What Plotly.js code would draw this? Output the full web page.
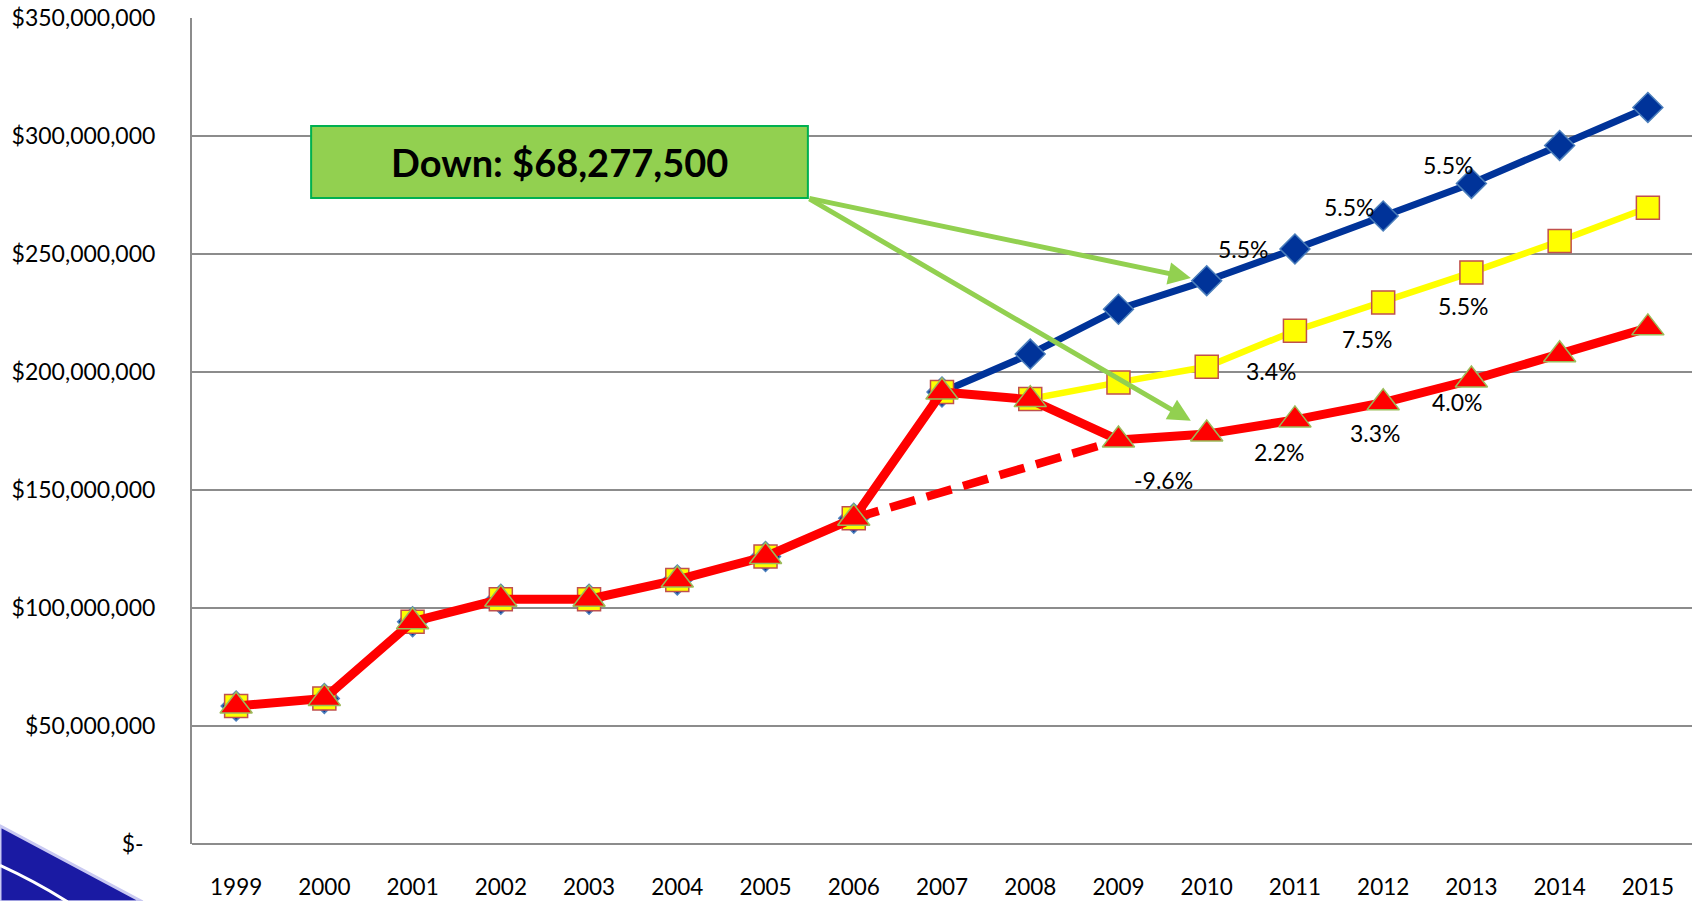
<!DOCTYPE html>
<html>
<head>
<meta charset="utf-8">
<script src="https://cdn.plot.ly/plotly-3.0.1.min.js"></script>
<style>
  html, body { margin: 0; padding: 0; background: #ffffff; }
  #chart { width: 1696px; height: 901px; }
</style>
</head>
<body>
<div id="chart"></div>
<script>
// ---- data (US$) ----
const years = [1999, 2000, 2001, 2002, 2003, 2004, 2005, 2006, 2007, 2008, 2009, 2010, 2011, 2012, 2013, 2014, 2015];
const projected = [58.5, 61.7, 94.2, 103.7, 103.7, 111.9, 121.8, 138.0, 191.5, 207.6, 226.6, 238.7, 252.1, 266.1, 279.9, 296.0, 312.1].map(v => v * 1e6);
const revised   = [58.5, 61.7, 94.2, 103.7, 103.7, 111.9, 121.8, 138.0, 191.5, 188.6, 195.6, 202.2, 217.5, 229.5, 242.2, 255.5, 269.6].map(v => v * 1e6);
const actual    = [58.5, 61.7, 94.2, 103.7, 103.7, 111.9, 121.8, 138.0, 191.5, 188.3, 171.2, 173.7, 179.7, 187.0, 196.6, 207.3, 218.7].map(v => v * 1e6);
const trendYears = [2006, 2009];
const trendValues = [138.0, 171.2].map(v => v * 1e6);

const yTickValues = [0, 50e6, 100e6, 150e6, 200e6, 250e6, 300e6, 350e6];
const yTickLabels = ['$-\u00a0\u00a0', '$50,000,000', '$100,000,000', '$150,000,000', '$200,000,000', '$250,000,000', '$300,000,000', '$350,000,000'];
const xTickLabels = years.map(String);

// growth labels attached to data points
const projectedLabelYears = [2011, 2012, 2013];
const projectedLabels = ['5.5%', '5.5%', '5.5%'];
const revisedLabelYears = [2010, 2011, 2012];
const revisedLabels = ['3.4%', '7.5%', '5.5%'];
const actualLabelYears = [2009, 2010, 2011, 2012];
const actualLabels = ['-9.6%', '2.2%', '3.3%', '4.0%'];

const calloutText = 'Down: $68,277,500';

// ---- styling / placement (pixel offsets of labels from their points) ----
const projShift = [[-51, 0], [-34, 9], [-23, 18]];
const revShift = [[65, -4], [73, -8], [80, -4]];
const actShift = [[45, -40], [73, -18], [81, -13], [74, 1]];

const FONT = 'Lato, "Open Sans", Arial, sans-serif';
const GRID = '#8c8c8c';

const traces = [
  {
    x: years, y: projected, type: 'scatter', mode: 'lines+markers', name: 'Projected',
    line: { color: '#003399', width: 7 },
    marker: { symbol: 'diamond', size: 23, color: '#003399', line: { color: '#4a7ebb', width: 1.5 } }
  },
  {
    x: years, y: revised, type: 'scatter', mode: 'lines+markers', name: 'Revised',
    line: { color: '#ffff00', width: 6.5 },
    marker: { symbol: 'square', size: 23, color: '#ffff00', line: { color: '#c0504d', width: 1.5 } }
  },
  {
    x: trendYears, y: trendValues, type: 'scatter', mode: 'lines', name: 'Trend',
    line: { color: '#ff0000', width: 8.5, dash: '26px,12px' }
  },
  {
    x: years, y: actual, type: 'scatter', mode: 'lines+markers', name: 'Actual',
    line: { color: '#ff0000', width: 9 },
    marker: { symbol: 'triangle-up', size: 28, color: '#ff0000', line: { color: '#9bbb59', width: 1.5 } }
  }
];

function pointLabels(labelYears, labels, series, shifts) {
  return labelYears.map((yr, i) => ({
    x: yr, y: series[years.indexOf(yr)], xref: 'x', yref: 'y',
    text: labels[i], showarrow: false,
    xshift: shifts[i][0], yshift: shifts[i][1],
    font: { family: FONT, size: 23, color: '#000000' }
  }));
}

// callout box geometry (data coordinates)
const boxX0 = 1999.85, boxX1 = 2005.48, boxY0 = 273.7e6, boxY1 = 304.2e6;

const annotations = []
  .concat(pointLabels(projectedLabelYears, projectedLabels, projected, projShift))
  .concat(pointLabels(revisedLabelYears, revisedLabels, revised, revShift))
  .concat(pointLabels(actualLabelYears, actualLabels, actual, actShift))
  .concat([
    {
      x: (boxX0 + boxX1) / 2, y: (boxY0 + boxY1) / 2, xref: 'x', yref: 'y',
      text: '<b>' + calloutText + '</b>', showarrow: false,
      font: { family: FONT, size: 38, color: '#000000' }
    },
    {
      x: 2009.82, y: 239.8e6, ax: boxX1, ay: boxY0, xref: 'x', yref: 'y', axref: 'x', ayref: 'y',
      text: '', showarrow: true, arrowhead: 2, arrowsize: 0.9, arrowwidth: 5, arrowcolor: '#92d050', standoff: 0, startstandoff: 0
    },
    {
      x: 2009.82, y: 179.3e6, ax: boxX1, ay: boxY0, xref: 'x', yref: 'y', axref: 'x', ayref: 'y',
      text: '', showarrow: true, arrowhead: 2, arrowsize: 0.9, arrowwidth: 5, arrowcolor: '#92d050', standoff: 0, startstandoff: 0
    }
  ]);

const shapes = [
  {
    type: 'rect', xref: 'x', yref: 'y', x0: boxX0, x1: boxX1, y0: boxY0, y1: boxY1,
    fillcolor: '#92d050', line: { color: '#00b050', width: 2 }, layer: 'above'
  },
  // decorative corner swoosh (slide background)
  {
    type: 'path', xref: 'paper', yref: 'paper',
    path: 'M -0.128,0.022 Q -0.085,-0.02 -0.033,-0.07 L -0.128,-0.07 Z',
    fillcolor: '#1a1aa3', line: { color: '#c9c9f2', width: 3 }, layer: 'above'
  },
  {
    type: 'path', xref: 'paper', yref: 'paper',
    path: 'M -0.128,-0.026 Q -0.105,-0.045 -0.083,-0.07',
    line: { color: '#ffffff', width: 3 }, layer: 'above'
  }
];

const layout = {
  width: 1696, height: 901,
  margin: { l: 192, r: 4, t: 18, b: 57 },
  paper_bgcolor: '#ffffff', plot_bgcolor: '#ffffff',
  showlegend: false,
  font: { family: FONT, size: 23, color: '#000000' },
  xaxis: {
    type: 'linear', range: [1998.5, 2015.5],
    tickvals: years, ticktext: xTickLabels,
    showgrid: false, zeroline: false, showline: false,
    ticks: '', ticklabelstandoff: 27,
    tickfont: { family: FONT, size: 22.5, color: '#000000' }
  },
  yaxis: {
    range: [0, 350e6],
    tickvals: yTickValues, ticktext: yTickLabels,
    showgrid: true, gridcolor: GRID, gridwidth: 2,
    zeroline: true, zerolinecolor: GRID, zerolinewidth: 2,
    showline: true, linecolor: GRID, linewidth: 2,
    ticks: '', ticklabelstandoff: 30,
    tickfont: { family: FONT, size: 23, color: '#000000' }
  },
  shapes: shapes,
  annotations: annotations
};

Plotly.newPlot('chart', traces, layout, { displayModeBar: false, staticPlot: true });
</script>
</body>
</html>
